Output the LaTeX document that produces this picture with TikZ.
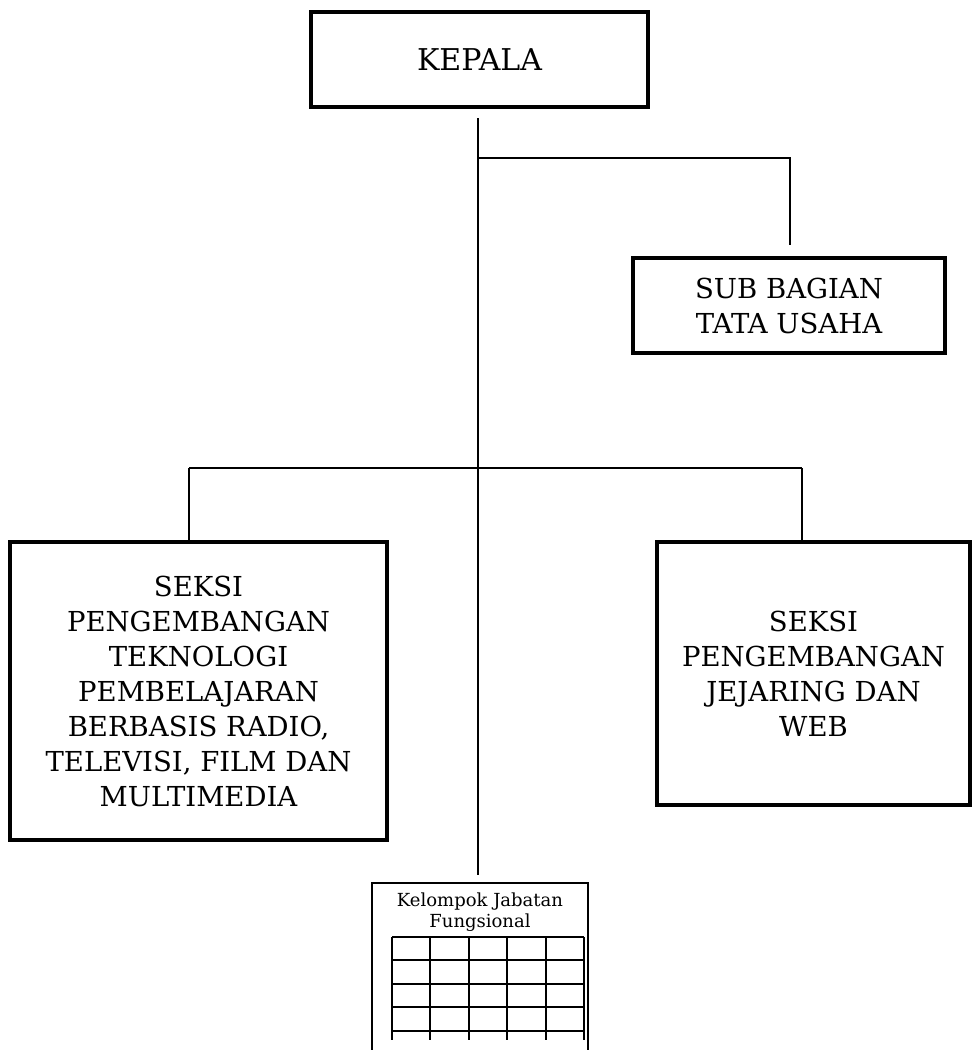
\documentclass[tikz,border=0pt]{standalone}
\usepackage{fontspec}
\setmainfont{DejaVu Serif}
\usepackage{tikz}
\usetikzlibrary{positioning}
\tikzset{
  unit/.style={rectangle, draw=black, line width=4pt, align=center, inner sep=0pt,
    font=\fontsize{27.5}{35}\selectfont},
  kjfbox/.style={rectangle, draw=black, line width=1.8pt, inner sep=0pt}
}
\tikzstyle{line} = [black, line width=1.6pt]
\tikzstyle{grid} = [black, line width=2.6pt]

\begin{document}
\begin{tikzpicture}[x=1pt,y=-1pt]
    \useasboundingbox (0,0) rectangle (972,1050);
    \node [unit, minimum width=337, minimum height=95, font=\fontsize{30}{35}\selectfont] (kepala) at (479.5,59.5) {KEPALA};
    \node [unit, minimum width=312, minimum height=95] (tu) at (789,305.5) {SUB BAGIAN\\TATA USAHA};
    \node [unit, minimum width=377, minimum height=298] (ptp) at (198.5,691) {SEKSI\\PENGEMBANGAN\\TEKNOLOGI\\PEMBELAJARAN\\BERBASIS RADIO,\\TELEVISI, FILM DAN\\MULTIMEDIA};
    \node [unit, minimum width=313, minimum height=263] (pjw) at (813.5,673.5) {SEKSI\\PENGEMBANGAN\\JEJARING DAN\\WEB};
    \node [kjfbox, minimum width=216, minimum height=175] (kjf) at (480,970.5) {};
    \node [font=\fontsize{18}{21}\selectfont, align=center, below=7pt of kjf.north] (kjflabel) {Kelompok Jabatan\\Fungsional};
    % trunk and branches
    \coordinate (top) at (478,118);
    \coordinate (j1) at (478,158);
    \coordinate (j2) at (478,468);
    \coordinate (bot) at (478,875);
    \coordinate (l) at (189,468);
    \coordinate (r) at (802,468);
    \coordinate (tr) at (790,158);
    \draw [line] (top) -- (j1) -- (j2) -- (bot);
    \draw [line] (j1) -- (tr) -- ([yshift=11pt]tr |- tu.north);
    \draw [line] (l) -- (r);
    \draw [line] (l) -- (l |- ptp.north);
    \draw [line] (r) -- (r |- pjw.north);
    % grid
    \foreach \x in {392,430,469,507,546,584}
        \draw [grid] (\x,937) -- (\x,1040);
    \foreach \y in {937,960,984,1007,1031}
        \draw [grid] (392,\y) -- (584,\y);
\end{tikzpicture}
\end{document}
